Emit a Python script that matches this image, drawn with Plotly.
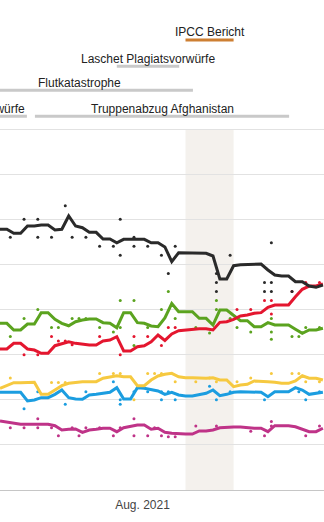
import plotly.graph_objects as go
from datetime import datetime, timedelta

# ---------------- data ----------------
start_day = "2021-07-13"          # first smoothed point
n_days = 48

union = [28.89, 28.89, 28.44, 28.44, 29.25, 29.25, 29.36, 29.36, 28.81, 28.89,
         30.36, 29.25, 29.06, 28.55, 28.55, 27.81, 27.81, 27.40, 27.78, 27.78,
         27.78, 27.78, 27.40, 27.40, 26.93, 25.30, 26.29, 26.29, 26.29, 26.23,
         26.23, 25.93, 23.38, 23.38, 24.85, 24.96, 24.96, 25.04, 25.04, 24.38,
         23.82, 23.71, 23.71, 23.08, 23.08, 22.60, 22.46, 22.71]
spd = [15.62, 15.62, 16.25, 16.25, 15.62, 15.51, 15.15, 15.15, 15.99, 16.25,
       16.43, 16.25, 16.14, 16.07, 16.07, 16.51, 16.62, 16.99, 15.40, 15.40,
       15.88, 15.99, 16.43, 17.17, 16.57, 17.29, 17.65, 17.73, 17.81, 17.87,
       17.87, 17.73, 18.58, 18.65, 18.91, 19.28, 19.39, 19.58, 19.65, 20.24,
       20.50, 20.50, 20.50, 21.42, 22.24, 22.60, 22.60, 22.83]
gruene = [18.47, 18.47, 17.73, 17.73, 18.39, 18.39, 19.65, 19.65, 18.91, 18.47,
          18.20, 18.65, 18.84, 18.95, 18.95, 18.54, 18.47, 17.98, 19.65, 19.65,
          18.54, 18.47, 18.17, 18.09, 19.06, 20.66, 19.76, 19.76, 19.76, 19.02,
          19.02, 18.28, 19.94, 19.94, 19.39, 18.76, 18.76, 18.09, 18.09, 18.54,
          18.28, 18.28, 18.28, 17.81, 17.36, 17.73, 17.73, 17.92]
fdp = [11.27, 11.56, 11.89, 11.89, 11.93, 11.93, 10.60, 10.60, 11.08, 11.56,
       11.82, 11.93, 12.00, 12.00, 12.00, 12.38, 12.49, 12.66, 12.55, 12.55,
       11.56, 11.56, 12.19, 12.63, 12.82, 12.93, 12.55, 12.44, 12.44, 12.38,
       12.38, 12.44, 12.19, 12.19, 11.45, 11.63, 11.71, 12.08, 12.08, 12.00,
       11.93, 11.82, 11.82, 12.08, 12.66, 12.38, 12.38, 12.19]
afd = [10.83, 10.83, 10.89, 10.83, 9.86, 9.97, 10.23, 10.23, 10.60, 11.08,
       10.23, 10.08, 10.05, 10.53, 10.60, 10.71, 10.83, 11.34, 10.08, 10.08,
       11.34, 11.27, 11.08, 10.97, 10.60, 10.83, 10.53, 10.42, 10.42, 10.60,
       10.71, 11.08, 10.45, 10.60, 10.83, 10.89, 10.89, 10.89, 10.83, 10.34,
       10.89, 10.89, 10.89, 11.34, 11.08, 10.60, 10.71, 10.83]
linke = [7.65, 7.50, 7.39, 7.28, 7.28, 7.28, 7.28, 7.28, 7.12, 6.65,
         6.73, 6.76, 6.39, 6.65, 6.73, 6.84, 6.84, 6.46, 6.90, 7.01,
         7.20, 7.20, 6.73, 6.84, 6.39, 6.28, 6.20, 6.20, 6.20, 6.54,
         6.54, 6.65, 6.90, 6.98, 6.98, 6.98, 6.90, 6.84, 6.84, 6.46,
         7.12, 7.12, 7.12, 7.01, 6.76, 6.46, 6.46, 6.84]

# individual polls (date, value)
union_poll_dates = ["07-14", "07-16", "07-18", "07-18", "07-20", "07-22", "07-23", "07-25",
                    "07-27", "07-29", "07-30", "07-30", "08-01", "08-01", "08-03", "08-05",
                    "08-06", "08-07", "08-13", "08-13", "08-13", "08-15", "08-20", "08-20",
                    "08-21", "08-21", "08-21", "08-24"]
union_poll_vals = [28, 30, 30, 28, 28, 31.5, 28, 28, 27, 27, 30, 26, 28, 27, 27, 26,
                   24, 27, 24, 23, 22, 26, 23, 22, 27.4, 23, 22, 22]
spd_poll_dates = ["07-16", "07-18", "07-20", "07-21", "07-22", "07-23", "07-27", "07-30",
                  "08-01", "08-03", "08-05", "08-06", "08-07", "08-16", "08-18", "08-20",
                  "08-21", "08-21", "08-24", "08-26", "08-28"]
spd_poll_vals = [15, 15, 17, 16.5, 16.5, 16.1, 17, 15, 17, 17, 16, 18, 18, 20, 20, 21,
                 21, 19.5, 22, 23, 23]
gruene_poll_dates = ["07-14", "07-16", "07-18", "07-20", "07-21", "07-23", "07-24", "07-25",
                     "07-27", "07-29", "07-30", "07-30", "08-01", "08-01", "08-03", "08-05",
                     "08-06", "08-07", "08-10", "08-12", "08-13", "08-13", "08-15", "08-16",
                     "08-18", "08-21", "08-21", "08-21", "08-24", "08-25", "08-26", "08-28"]
gruene_poll_vals = [17, 19, 20, 18, 18, 19, 19, 19, 18, 17.5, 21, 18, 21, 16, 18, 20,
                    22, 19, 18, 17.4, 21, 20, 19, 18, 17.5, 19, 17.5, 16.7, 17, 17, 18, 18]
fdp_poll_dates = ["07-14", "07-20", "07-21", "07-22", "07-27", "07-29", "07-30", "08-01",
                  "08-03", "08-04", "08-05", "08-07", "08-10", "08-12", "08-13", "08-16",
                  "08-18", "08-21", "08-24", "08-25", "08-26", "08-28"]
fdp_poll_vals = [12.4, 11.9, 11.9, 11.9, 12.9, 12.9, 12.9, 10, 12.9, 12.9, 12.9, 12,
                 12, 12.4, 12, 12, 12.4, 12.9, 12.9, 12.9, 12, 12]
afd_poll_dates = ["07-16", "07-18", "07-22", "07-25", "07-29", "07-30", "07-30", "08-01",
                  "08-03", "08-05", "08-05", "08-06", "08-07", "08-12", "08-13", "08-15",
                  "08-20", "08-25", "08-26", "08-28"]
afd_poll_vals = [9, 10.9, 9.5, 10.9, 12, 10, 9.5, 10.9, 10.9, 10.9, 10, 10.9, 10, 11.5,
                 10, 10.9, 10, 10.9, 10, 10.9]
linke_poll_dates = ["07-14", "07-16", "07-18", "07-18", "07-20", "07-21", "07-23", "07-24",
                    "07-25", "07-27", "07-29", "07-30", "08-01", "08-01", "08-03", "08-04",
                    "08-05", "08-06", "08-07", "08-10", "08-13", "08-18", "08-20", "08-21",
                    "08-21", "08-26", "08-28"]
linke_poll_vals = [6.9, 6.9, 7.9, 6.9, 6.9, 6.0, 6.9, 6.0, 6.9, 6.9, 6.0, 6.9, 7.9, 6.0,
                   6.0, 6.9, 6.0, 5.9, 5.9, 7.1, 7.1, 6.5, 6.0, 7.6, 7.1, 6.0, 7.1]

# events (label, start, end, level)
event_labels = ["Baerbock Plagiatsvorwürfe", "Truppenabzug Afghanistan", "Flutkatastrophe",
                "Laschet Plagiatsvorwürfe", "IPCC Bericht"]
event_starts = ["2021-06-20", "2021-07-18 02:00", "2021-07-08 00:00", "2021-07-30 00:00", "2021-08-09"]
event_ends = ["2021-07-16 22:00", "2021-08-24 02:00", "2021-08-10 02:00", "2021-08-08 02:00", "2021-08-16"]
event_levels = [42.2, 42.2, 45.1, 47.75, 50.65]
band_start, band_end = "2021-08-09", "2021-08-16"

tick_vals = ["2021-08-01"]
tick_text = ["Aug. 2021"]

# ---------------- figure ----------------
FONT = "Liberation Sans, Arial, Helvetica, sans-serif"
d0 = datetime.strptime(start_day, "%Y-%m-%d")
line_x = [d0 + timedelta(days=k) for k in range(n_days)]

def poll_x(dates):
    return ["2021-" + d + " 12:00" for d in dates]

series = [
    ("Linke", linke, linke_poll_dates, linke_poll_vals, "#bf3388"),
    ("AfD", afd, afd_poll_dates, afd_poll_vals, "#1b9de0"),
    ("FDP", fdp, fdp_poll_dates, fdp_poll_vals, "#f6c940"),
    ("Grüne", gruene, gruene_poll_dates, gruene_poll_vals, "#5ba31f"),
    ("SPD", spd, spd_poll_dates, spd_poll_vals, "#e4162f"),
    ("Union", union, union_poll_dates, union_poll_vals, "#2a2a2a"),
]

fig = go.Figure()
for name, vals, pd_, pv, col in series:
    fig.add_trace(go.Scatter(x=poll_x(pd_), y=pv, mode="markers", name=name + " Umfragen",
                             marker=dict(size=3, color=col), showlegend=False, hoverinfo="skip"))
for name, vals, pd_, pv, col in series:
    fig.add_trace(go.Scatter(x=line_x, y=vals, mode="lines", name=name,
                             line=dict(color=col, width=3), showlegend=False))

# shaded band (IPCC week)
fig.add_shape(type="rect", xref="x", yref="y", x0=band_start, x1=band_end, y0=0, y1=40,
              fillcolor="#f4f1ed", line=dict(width=0), layer="below")

for i, lab in enumerate(event_labels):
    col = "#cd7f32" if lab == "IPCC Bericht" else "#c9c9c9"
    lvl = event_levels[i]
    fig.add_shape(type="line", xref="x", yref="y", x0=event_starts[i], x1=event_ends[i],
                  y0=lvl - 0.8, y1=lvl - 0.8, line=dict(color=col, width=3))
    s = datetime.fromisoformat(event_starts[i])
    e = datetime.fromisoformat(event_ends[i])
    if i == 0:
        fig.add_annotation(x=e, y=lvl + 0.05, text=lab, showarrow=False, xanchor="right",
                           yanchor="middle", font=dict(family=FONT, size=12, color="#222"))
    else:
        fig.add_annotation(x=s + (e - s) / 2, y=lvl + 0.05, text=lab, showarrow=False,
                           xanchor="center", yanchor="middle",
                           font=dict(family=FONT, size=12, color="#222"))

x_end = d0 + timedelta(days=47.16)
fig.update_xaxes(type="date", range=[d0, x_end], tickvals=tick_vals, ticktext=tick_text,
                 showgrid=False, zeroline=False, showline=True, linecolor="#c6c6c6", linewidth=1,
                 ticks="outside", ticklen=4, tickcolor="rgba(0,0,0,0)", ticklabelshift=12,
                 tickfont=dict(family=FONT, size=12, color="#444"), fixedrange=True)
fig.update_yaxes(range=[0, 490 / 9.025], tickvals=[0, 5, 10, 15, 20, 25, 30, 35, 40],
                 showticklabels=False, showgrid=True, gridcolor="#e2e2e2", gridwidth=1,
                 zeroline=False, fixedrange=True)
fig.update_layout(width=324, height=522, margin=dict(l=0, r=0, t=0, b=32),
                  plot_bgcolor="white", paper_bgcolor="white", showlegend=False,
                  font=dict(family=FONT))
fig.write_html("out.html")
